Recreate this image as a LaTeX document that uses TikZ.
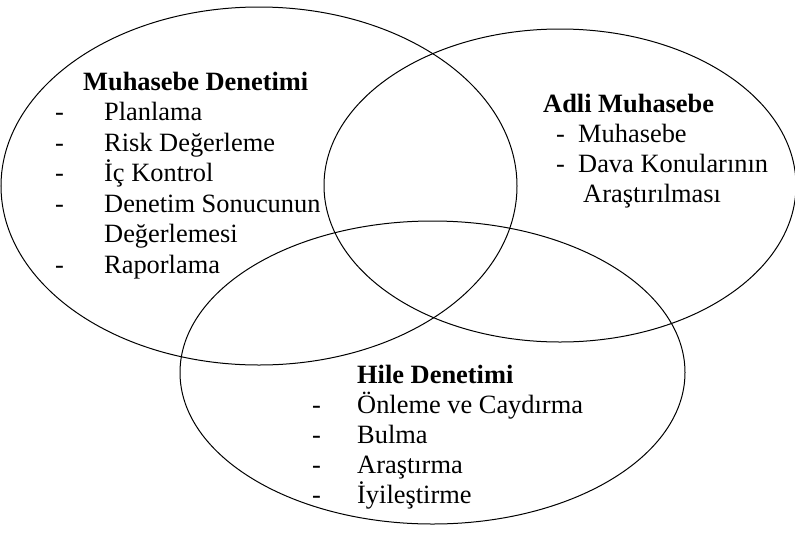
\documentclass[tikz,border=0pt]{standalone}
\usepackage{fontspec}
\setmainfont{Liberation Serif}
\usetikzlibrary{shapes.geometric}
\begin{document}
\begin{tikzpicture}[x=1pt,y=-1pt,
  circ/.style={draw, ellipse, line width=1pt, inner sep=0pt},
  txt/.style={anchor=base west, inner sep=0pt, font=\fontsize{26.4}{30.5}\selectfont},
  ttl/.style={txt, font=\fontsize{26.4}{30.5}\selectfont\bfseries}]
\useasboundingbox (0,0) rectangle (795,533);
\node[circ, minimum width=516pt, minimum height=358pt] (md) at (259,186) {};
\node[circ, minimum width=472pt, minimum height=313pt] (am) at (560,185.5) {};
\node[circ, minimum width=505pt, minimum height=303pt] (hd) at (432.5,372.5) {};
% Muhasebe Denetimi
\node[ttl] (mdt) at (83,90) {Muhasebe Denetimi};
\node[txt] (md1d) at (55,120.5) {-};
\node[txt] (md1) at (104,120.5) {Planlama};
\node[txt] (md2d) at (55,151) {-};
\node[txt] (md2) at (104,151) {Risk Değerleme};
\node[txt] (md3d) at (55,181.5) {-};
\node[txt] (md3) at (104,181.5) {İç Kontrol};
\node[txt] (md4d) at (55,212) {-};
\node[txt] (md4) at (104,212) {Denetim Sonucunun};
\node[txt] (md4b) at (104,242.5) {Değerlemesi};
\node[txt] (md5d) at (55,273) {-};
\node[txt] (md5) at (104,273) {Raporlama};
% Adli Muhasebe
\node[ttl] (amt) at (543,112) {Adli Muhasebe};
\node[txt] (am1d) at (556,142) {-};
\node[txt] (am1) at (578,142) {Muhasebe};
\node[txt] (am2d) at (556,172) {-};
\node[txt] (am2) at (578,172) {Dava Konularının};
\node[txt] (am2b) at (583,202) {Araştırılması};
% Hile Denetimi
\node[ttl] (hdt) at (357,383) {Hile Denetimi};
\node[txt] (hd1d) at (312,413) {-};
\node[txt] (hd1) at (357,413) {Önleme ve Caydırma};
\node[txt] (hd2d) at (312,443) {-};
\node[txt] (hd2) at (357,443) {Bulma};
\node[txt] (hd3d) at (312,473) {-};
\node[txt] (hd3) at (357,473) {Araştırma};
\node[txt] (hd4d) at (312,503) {-};
\node[txt] (hd4) at (357,503) {İyileştirme};
\end{tikzpicture}
\end{document}
